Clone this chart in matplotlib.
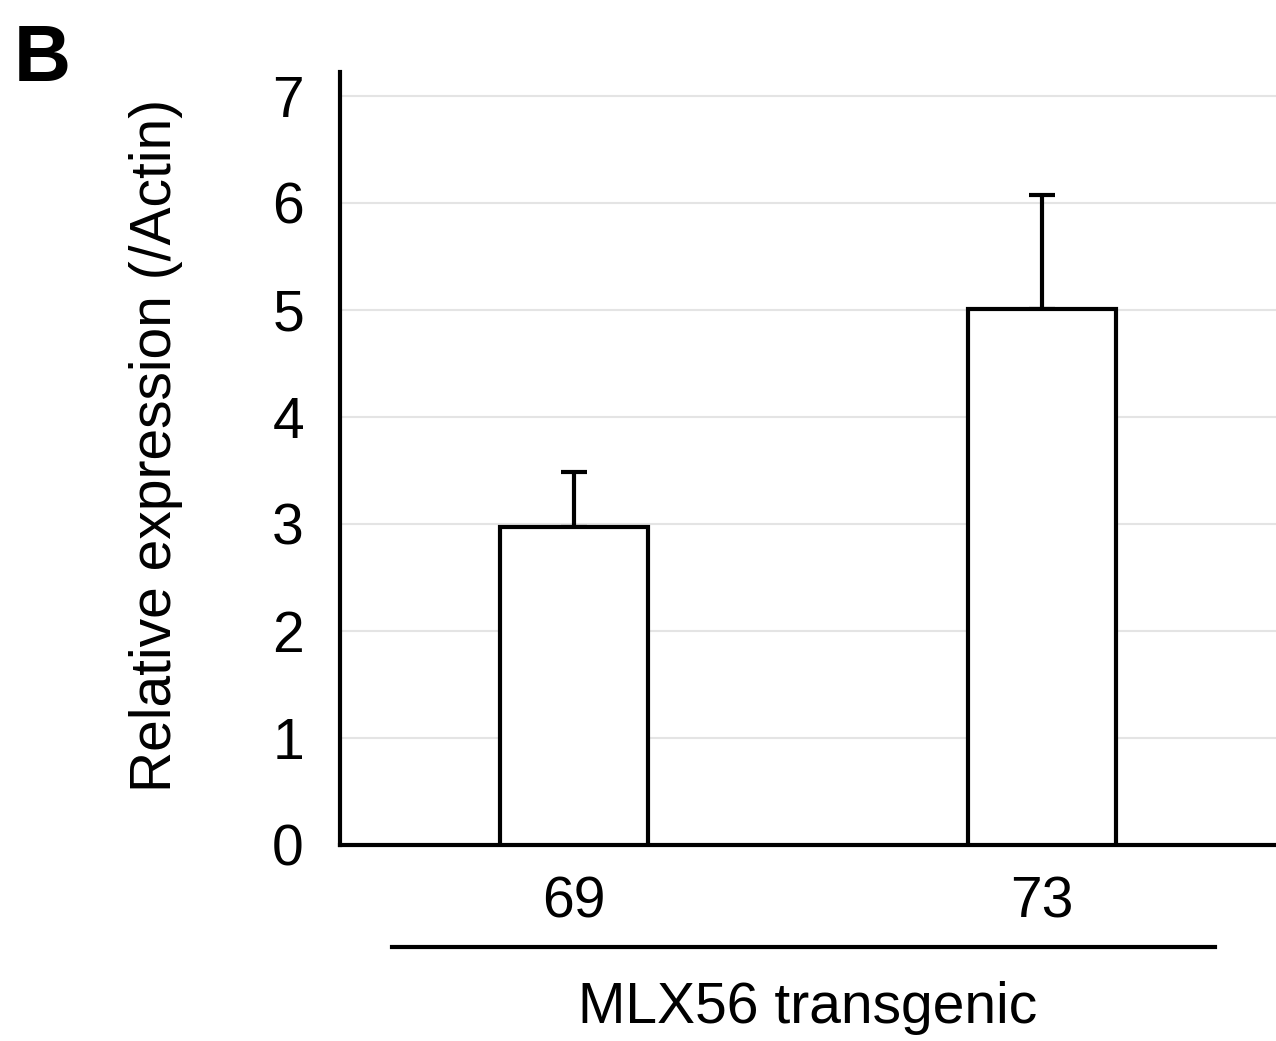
import matplotlib
matplotlib.use("Agg")
import matplotlib.pyplot as plt

# data
lines = ["69", "73"]
expression = [2.97, 5.01]
err_up = [0.51, 1.06]
group_label = "MLX56 transgenic"
yticks = [0, 1, 2, 3, 4, 5, 6, 7]

plt.rcParams["font.family"] = ["Liberation Sans", "DejaVu Sans"]
FS = 41

fig = plt.figure(figsize=(12.76, 10.41), dpi=100)
ax = fig.add_axes([0.2665, 0.1883, 0.7335, 0.7425])

x = list(range(len(lines)))
ax.bar(x, expression, width=0.318, color="white", edgecolor="black",
       linewidth=3, zorder=3)
ax.errorbar(x, expression, yerr=[[0] * len(err_up), err_up], fmt="none",
            ecolor="black", elinewidth=3, capsize=9.5, capthick=3, zorder=2)

ax.set_xlim(-0.5, 1.5)
ax.set_ylim(0, 7.22)
ax.set_yticks(yticks)
ax.set_yticklabels([str(t) for t in yticks], fontsize=FS)
ax.set_xticks(x)
ax.set_xticklabels(lines, fontsize=FS)
ax.tick_params(axis="both", length=0)
ax.tick_params(axis="y", pad=26)
ax.tick_params(axis="x", pad=22)

ax.yaxis.grid(True, color="#e4e4e4", linewidth=1.5, zorder=0)
ax.set_axisbelow(True)

for side in ["top", "right"]:
    ax.spines[side].set_visible(False)
for side in ["left", "bottom"]:
    ax.spines[side].set_linewidth(3)
    ax.spines[side].set_color("black")

ax.set_ylabel("Relative expression (/Actin)", fontsize=FS)
ax.yaxis.set_label_coords(-0.168, 0.517)

# group line and label under the categories
ax.plot([-0.39, 1.37], [-0.95, -0.95], color="black", linewidth=3,
        clip_on=False)
ax.text(0.5, -1.52, group_label, ha="center", va="center", fontsize=FS)

fig.text(0.011, 0.978, "B", fontsize=57, fontweight="bold", ha="left",
         va="top")

fig.savefig("out.png", dpi=100)
